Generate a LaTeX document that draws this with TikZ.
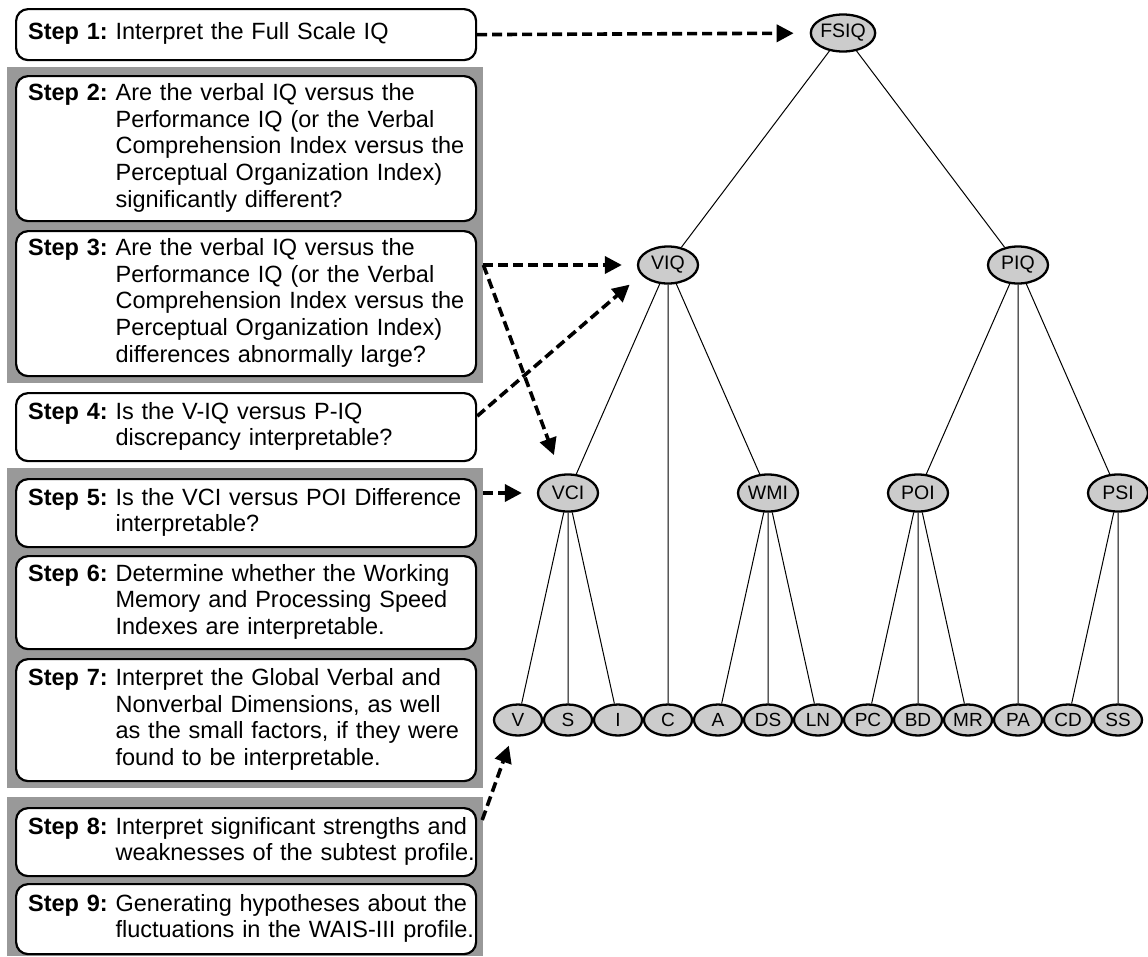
\documentclass[tikz,border=0pt]{standalone}
\usepackage{fontspec}
\setmainfont{Liberation Sans}
\usetikzlibrary{shapes.geometric,arrows.meta,calc}
\definecolor{bandgray}{RGB}{153,153,153}
\definecolor{nodegray}{RGB}{204,204,204}
\newcommand{\stepfont}{\fontsize{23.5}{26.7}\selectfont}
\tikzset{
  band/.style={fill=bandgray, draw=none, inner sep=0pt, anchor=north west},
  stepbox/.style={draw=black, line width=2.2pt, rounded corners=12pt, fill=white,
    anchor=north west, minimum width=460pt, text width=436pt, inner xsep=12pt,
    inner ysep=0pt, font=\stepfont},
  inode/.style={ellipse, draw=black, line width=2.3pt, fill=nodegray, minimum width=60pt,
    minimum height=37pt, inner sep=0pt, font=\fontsize{19.5}{22}\selectfont},
  leaf/.style={ellipse, draw=black, line width=2.3pt, fill=nodegray, minimum width=48pt,
    minimum height=31pt, inner sep=0pt, font=\fontsize{19}{21}\selectfont},
  edge/.style={draw=black, line width=1pt},
  flow/.style={draw=black, line width=3.6pt, dash pattern=on 10pt off 5pt,
    -{Triangle[length=17pt,width=17pt]}},
}
\begin{document}
\begin{tikzpicture}[x=1pt,y=-1pt]
\useasboundingbox (0,0) rectangle (1148,956);
% gray bands
\node[band, minimum width=476pt, minimum height=316pt] (g1) at (7,67) {};
\node[band, minimum width=476pt, minimum height=320pt] (g2) at (7,468) {};
\node[band, minimum width=476pt, minimum height=159pt] (g3) at (7,797) {};
% step boxes
\node[stepbox, minimum height=51pt] (s1) at (15,8) {\begin{tabular}{@{}l@{\ }l@{}}\textbf{Step 1:} & Interpret the Full Scale IQ\end{tabular}};
\node[stepbox, minimum height=145pt] (s2) at (15,75) {\begin{tabular}{@{}l@{\ }l@{}}\textbf{Step 2:} & Are the verbal IQ versus the\\ & Performance IQ (or the Verbal\\ & Comprehension Index versus the\\ & Perceptual Organization Index)\\ & significantly different?\end{tabular}};
\node[stepbox, minimum height=145pt] (s3) at (15,230) {\begin{tabular}{@{}l@{\ }l@{}}\textbf{Step 3:} & Are the verbal IQ versus the\\ & Performance IQ (or the Verbal\\ & Comprehension Index versus the\\ & Perceptual Organization Index)\\ & differences abnormally large?\end{tabular}};
\node[stepbox, minimum height=68pt] (s4) at (15,392) {\begin{tabular}{@{}l@{\ }l@{}}\textbf{Step 4:} & Is the V-IQ versus P-IQ\\ & discrepancy interpretable?\end{tabular}};
\node[stepbox, minimum height=68pt] (s5) at (15,478) {\begin{tabular}{@{}l@{\ }l@{}}\textbf{Step 5:} & Is the VCI versus POI Difference\\ & interpretable?\end{tabular}};
\node[stepbox, minimum height=93pt] (s6) at (15,555) {\begin{tabular}{@{}l@{\ }l@{}}\textbf{Step 6:} & Determine whether the Working\\ & Memory and Processing Speed\\ & Indexes are interpretable.\end{tabular}};
\node[stepbox, minimum height=122pt] (s7) at (15,658) {\begin{tabular}{@{}l@{\ }l@{}}\textbf{Step 7:} & Interpret the Global Verbal and\\ & Nonverbal Dimensions, as well\\ & as the small factors, if they were\\ & found to be interpretable.\end{tabular}};
\node[stepbox, minimum height=68pt] (s8) at (15,807) {\begin{tabular}{@{}l@{\ }l@{}}\textbf{Step 8:} & Interpret significant strengths and\\ & weaknesses of the subtest profile.\end{tabular}};
\node[stepbox, minimum height=70pt] (s9) at (15,883) {\begin{tabular}{@{}l@{\ }l@{}}\textbf{Step 9:} & Generating hypotheses about the\\ & fluctuations in the WAIS-III profile.\end{tabular}};
% tree
\node[inode] (fsiq) at (843,33) {FSIQ};
\node[inode] (viq) at (668,265) {VIQ};
\node[inode] (piq) at (1018,265) {PIQ};
\node[inode] (vci) at (568,493) {VCI};
\node[inode] (wmi) at (768,493) {WMI};
\node[inode] (poi) at (918,493) {POI};
\node[inode] (psi) at (1118,493) {PSI};
\node[leaf] (v) at (518,720) {V};
\node[leaf] (s) at (568,720) {S};
\node[leaf] (i) at (618,720) {I};
\node[leaf] (c) at (668,720) {C};
\node[leaf] (a) at (718,720) {A};
\node[leaf] (ds) at (768,720) {DS};
\node[leaf] (ln) at (818,720) {LN};
\node[leaf] (pc) at (868,720) {PC};
\node[leaf] (bd) at (918,720) {BD};
\node[leaf] (mr) at (968,720) {MR};
\node[leaf] (pa) at (1018,720) {PA};
\node[leaf] (cd) at (1068,720) {CD};
\node[leaf] (ss) at (1118,720) {SS};
\path[edge] (fsiq) -- (viq) (fsiq) -- (piq)
  (viq) -- (vci) (viq) -- (c) (viq) -- (wmi)
  (piq) -- (poi) (piq) -- (pa) (piq) -- (psi)
  (vci) -- (v) (vci) -- (s) (vci) -- (i)
  (wmi) -- (a) (wmi) -- (ds) (wmi) -- (ln)
  (poi) -- (pc) (poi) -- (bd) (poi) -- (mr)
  (psi) -- (cd) (psi) -- (ss);
% dashed arrows
\coordinate (g1out) at (g1.east |- viq);
\coordinate (s4out) at ($(s4.east)+(0,-11)$);
\coordinate (s8out) at ($(s8.north east)+(5,13)$);
\draw[flow, shorten >=16pt] (s1.east) -- (fsiq);
\draw[flow, shorten >=15pt] (g1out) -- (viq);
\draw[flow, shorten >=20pt] (g1out) -- (vci);
\draw[flow, shorten >=15pt] (s4out) -- (viq.200);
\draw[flow, shorten >=15pt] (g2.east |- vci) -- (vci);
\draw[flow, shorten >=10pt] (s8out) -- (v);
\end{tikzpicture}
\end{document}
